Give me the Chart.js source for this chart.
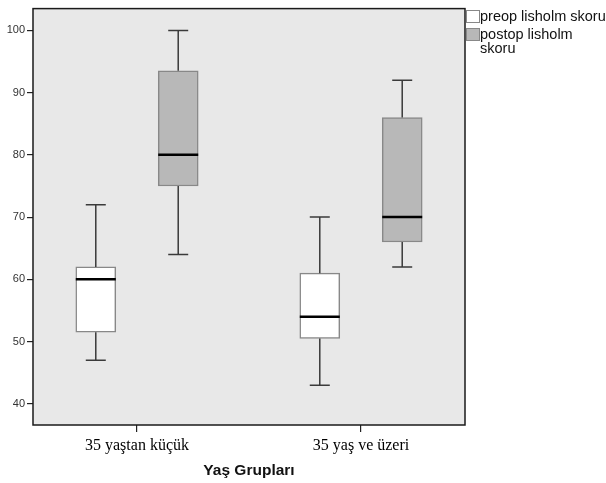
<!DOCTYPE html>
<html>
<head>
<meta charset="utf-8">
<script src="https://cdn.jsdelivr.net/npm/chart.js@4"></script>
<style>
  body { margin: 0; background: #fff; }
  #wrap { position: relative; width: 606px; height: 483px; }
  #legend { position: absolute; left: 466px; top: 9px; font: 14.5px "Liberation Sans", Arial, sans-serif; color: #111; }
  .item { position: relative; padding-left: 14px; width: 126px; line-height: 14px; margin-bottom: 4px; }
  .sw { position: absolute; left: 0; top: 1px; width: 12px; height: 11px; border: 1px solid #888; }
</style>
</head>
<body>
<div id="wrap">
  <canvas id="chart" width="606" height="483"></canvas>
  <div id="legend"></div>
</div>
<script>
// -------- DATA --------
const gruplar = ["35 yaştan küçük", "35 yaş ve üzeri"];
const seriler = ["preop lisholm skoru", "postop lisholm skoru"];

const preopMin = [47, 43];
const preopQ1 = [51.5, 50.5];
const preopMedyan = [60, 54];
const preopQ3 = [62, 61];
const preopMax = [72, 70];

const postopMin = [64, 62];
const postopQ1 = [75, 66];
const postopMedyan = [80, 70];
const postopQ3 = [93.5, 86];
const postopMax = [100, 92];

const yTicks = [40, 50, 60, 70, 80, 90, 100];

// -------- HELPERS --------
const istatistik = [
    { min: preopMin, q1: preopQ1, med: preopMedyan, q3: preopQ3, max: preopMax },
    { min: postopMin, q1: postopQ1, med: postopMedyan, q3: postopQ3, max: postopMax }
];
const renkler = ["#ffffff", "#b8b8b8"];
const kutuKayma = 0.184;

function kutuVerisi(s, i) {
    return gruplar.map((g, j) => ({
        x: j + 1 + (i === 0 ? -kutuKayma : kutuKayma),
        y: [s.q1[j], s.q3[j]]
    }));
}

// legend as html
document.getElementById("legend").innerHTML = seriler.map((s, i) => `
  <div class="item"><span class="sw" style="background:${renkler[i]}"></span>${s}</div>
`).join("");

// -------- PLUGINS --------
const arkaPlan = {
    id: "arkaPlan",
    beforeDraw(chart) {
        const { ctx, chartArea: a } = chart;
        ctx.save();
        ctx.fillStyle = "#e8e8e8";
        ctx.fillRect(a.left, a.top, a.right - a.left, a.bottom - a.top);
        ctx.restore();
    },
    afterDraw(chart) {
        const { ctx, chartArea: a } = chart;
        ctx.save();
        ctx.strokeStyle = "#1a1a1a";
        ctx.lineWidth = 1.5;
        ctx.strokeRect(a.left, a.top, a.right - a.left, a.bottom - a.top);
        ctx.restore();
    }
};

const biyiklar = {
    id: "biyiklar",
    afterDatasetsDraw(chart) {
        const ctx = chart.ctx;
        const y = chart.scales.y;
        chart.data.datasets.forEach((ds, i) => {
            const s = istatistik[i];
            chart.getDatasetMeta(i).data.forEach((bar, j) => {
                const cx = bar.x;
                const w = bar.width / 2;
                ctx.save();
                ctx.strokeStyle = "#3a3a3a";
                ctx.lineWidth = 1.5;
                ctx.beginPath();
                ctx.moveTo(cx, y.getPixelForValue(s.q3[j]));
                ctx.lineTo(cx, y.getPixelForValue(s.max[j]));
                ctx.moveTo(cx, y.getPixelForValue(s.q1[j]));
                ctx.lineTo(cx, y.getPixelForValue(s.min[j]));
                ctx.moveTo(cx - w / 2, y.getPixelForValue(s.max[j]));
                ctx.lineTo(cx + w / 2, y.getPixelForValue(s.max[j]));
                ctx.moveTo(cx - w / 2, y.getPixelForValue(s.min[j]));
                ctx.lineTo(cx + w / 2, y.getPixelForValue(s.min[j]));
                ctx.stroke();
                ctx.strokeStyle = "#000";
                ctx.lineWidth = 2.5;
                ctx.beginPath();
                ctx.moveTo(cx - w, y.getPixelForValue(s.med[j]));
                ctx.lineTo(cx + w, y.getPixelForValue(s.med[j]));
                ctx.stroke();
                ctx.restore();
            });
        });
    }
};

// -------- CHART --------
new Chart(document.getElementById("chart"), {
    type: "bar",
    data: {
        datasets: seriler.map((s, i) => ({
            label: s,
            data: kutuVerisi(istatistik[i], i),
            backgroundColor: renkler[i],
            borderColor: "#888888",
            borderWidth: 1.5,
            borderSkipped: false,
            barThickness: 40,
            grouped: false
        }))
    },
    options: {
        responsive: false,
        animation: false,
        layout: { padding: { left: 0, top: 7, right: 141, bottom: 0 } },
        plugins: { legend: { display: false }, tooltip: { enabled: false } },
        scales: {
            x: {
                type: "linear",
                min: 1 - 104 / 224,
                max: 2 + 104 / 224,
                offset: false,
                afterBuildTicks: sc => { sc.ticks = gruplar.map((g, j) => ({ value: j + 1 })); },
                afterFit: sc => { sc.height = 58; },
                border: { display: false },
                grid: { offset: false, drawOnChartArea: false, tickLength: 7, color: "#222", lineWidth: 1.2 },
                ticks: {
                    padding: 4,
                    maxRotation: 0,
                    color: "#000",
                    font: { family: "Liberation Serif", size: 16 },
                    callback: (v, i) => gruplar[i]
                },
                title: {
                    display: true,
                    text: "Yaş Grupları",
                    color: "#111",
                    font: { family: "Liberation Sans", size: 15.5, weight: "bold" },
                    padding: { top: 0, bottom: 3 }
                }
            },
            y: {
                min: 36.6,
                max: 103.5,
                afterBuildTicks: sc => { sc.ticks = yTicks.map(v => ({ value: v })); },
                afterFit: sc => { sc.width = 33; },
                border: { display: false },
                grid: { drawOnChartArea: false, tickLength: 6, color: "#222", lineWidth: 1.2 },
                ticks: {
                    padding: 2,
                    color: "#333",
                    font: { family: "Liberation Sans", size: 11 }
                }
            }
        }
    },
    plugins: [arkaPlan, biyiklar]
});
</script>
</body>
</html>
